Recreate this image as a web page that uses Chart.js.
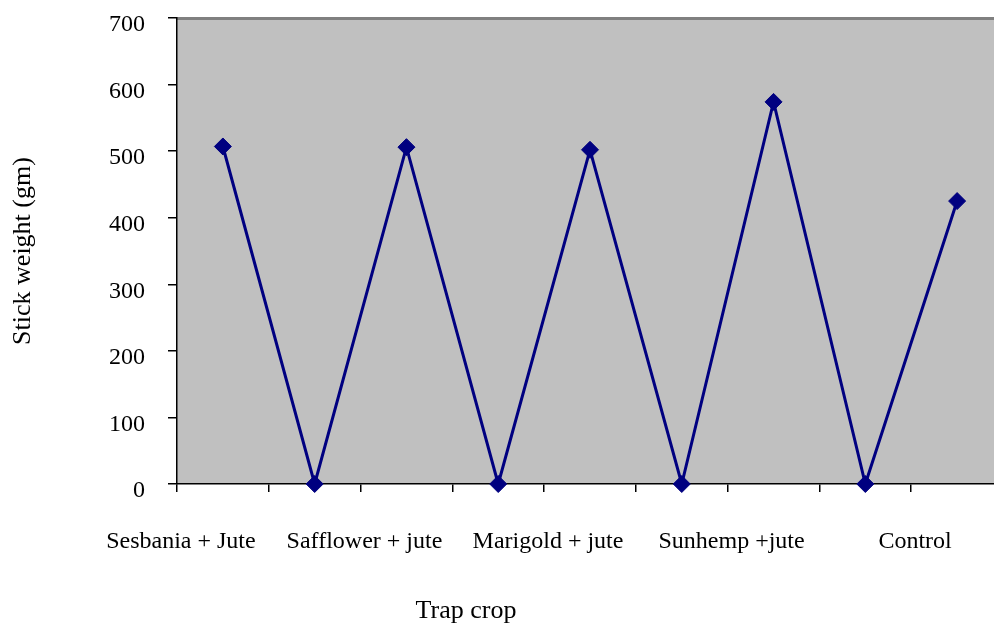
<!DOCTYPE html>
<html>
<head>
<meta charset="utf-8">
<script src="https://cdn.jsdelivr.net/npm/chart.js@4/dist/chart.umd.min.js"></script>
<style>
  html, body { margin: 0; padding: 0; background: #ffffff; overflow: hidden; }
  #c { display: block; }
</style>
</head>
<body>
<canvas id="c" width="1003" height="629"></canvas>
<script>
const categories = ['Sesbania + Jute', '', 'Safflower + jute', '', 'Marigold + jute', '', 'Sunhemp +jute', '', 'Control'];
const stickWeight = [507, 0, 506, 0, 502, 0, 574, 0, 425];
const yTicks = [0, 100, 200, 300, 400, 500, 600, 700];
const yTitle = 'Stick weight (gm)';
const xTitle = 'Trap crop';

const FONT = "'Liberation Serif', 'Times New Roman', serif";

const plotBg = {
  id: 'plotBg',
  beforeDraw(chart) {
    const {ctx, chartArea: a} = chart;
    ctx.save();
    ctx.fillStyle = '#c0c0c0';
    ctx.fillRect(a.left, a.top, a.right - a.left, a.bottom - a.top);
    ctx.strokeStyle = '#808080';
    ctx.lineWidth = 3;
    ctx.beginPath();
    ctx.moveTo(a.left, a.top + 0.5);
    ctx.lineTo(a.right, a.top + 0.5);
    ctx.stroke();
    ctx.restore();
  }
};

const xTitlePlugin = {
  id: 'xTitlePlugin',
  afterDraw(chart) {
    const {ctx} = chart;
    ctx.save();
    ctx.fillStyle = '#000000';
    ctx.font = "26px " + FONT;
    ctx.textAlign = 'center';
    ctx.textBaseline = 'middle';
    ctx.fillText(xTitle, 466, 611);
    ctx.restore();
  }
};

function noPad(scale) {
  scale.paddingTop = 0; scale.paddingBottom = 0;
  scale.paddingLeft = 0; scale.paddingRight = 0;
}

new Chart(document.getElementById('c'), {
  type: 'line',
  data: {
    labels: categories,
    datasets: [{
      data: stickWeight,
      borderColor: '#000080',
      backgroundColor: '#000080',
      borderWidth: 3,
      tension: 0,
      fill: false,
      clip: false,
      pointStyle: 'rectRot',
      pointRadius: 8.5,
      pointBorderWidth: 1,
      pointBorderColor: '#000080',
      pointBackgroundColor: '#000080',
      pointHoverRadius: 8.5
    }]
  },
  options: {
    responsive: false,
    maintainAspectRatio: false,
    animation: false,
    events: [],
    devicePixelRatio: 1,
    layout: { autoPadding: false, padding: { top: 18, left: 0, right: 0, bottom: 0 } },
    plugins: { legend: { display: false }, tooltip: { enabled: false } },
    scales: {
      x: {
        type: 'category',
        offset: true,
        afterFit(scale) { scale.height = 145; noPad(scale); },
        grid: { offset: true, drawOnChartArea: false, drawTicks: true, tickLength: 8, color: '#000000', lineWidth: 1.5 },
        border: { display: true, color: '#000000', width: 1.5 },
        ticks: {
          autoSkip: false, maxRotation: 0, minRotation: 0,
          labelOffset: -42, padding: 35,
          color: '#000000', font: { family: FONT, size: 24 }
        }
      },
      y: {
        min: 0, max: 700,
        afterFit(scale) { scale.width = 177; noPad(scale); },
        afterBuildTicks(scale) { scale.ticks = yTicks.map(v => ({ value: v })); },
        grid: { drawOnChartArea: false, drawTicks: true, tickLength: 9, color: '#000000', lineWidth: 1.5 },
        border: { display: true, color: '#000000', width: 1.5 },
        ticks: {
          stepSize: 100, padding: 23, labelOffset: 7,
          color: '#000000', font: { family: FONT, size: 24 }
        },
        title: {
          display: true, text: yTitle, color: '#000000',
          font: { family: FONT, size: 26 }, padding: { top: 8, bottom: 0 }
        }
      }
    }
  },
  plugins: [plotBg, xTitlePlugin]
});
</script>
</body>
</html>
